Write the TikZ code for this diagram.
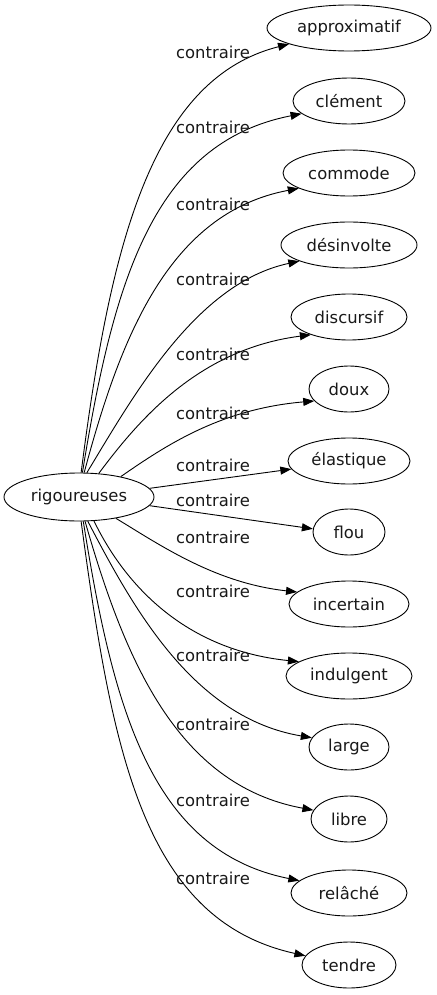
\documentclass[tikz,border=0pt]{standalone}
\usepackage{fontspec}
\setmainfont{DejaVu Sans}
\usetikzlibrary{arrows.meta,shapes.geometric}
\begin{document}
\begin{tikzpicture}[x=1pt,y=-1pt,
  word/.style={draw,ellipse,inner sep=0pt,minimum height=46pt,line width=0.9pt,font=\fontsize{16.4}{19}\selectfont,text=black!90},
  lbl/.style={inner sep=0pt,font=\fontsize{16.4}{19}\selectfont,text=black!90},
  edge/.style={line width=0.9pt,-{Triangle[length=11pt,width=8pt]}}]
\useasboundingbox (0,0) rectangle (436,995);
\node[word,minimum width=150pt,minimum height=48pt] (r) at (79,497) {rigoureuses};
\node[word,minimum width=164pt] (n1) at (349,28) {approximatif};
\node[word,minimum width=112pt] (n2) at (349,101) {clément};
\node[word,minimum width=132pt] (n3) at (349,173) {commode};
\node[word,minimum width=136pt] (n4) at (349,245) {désinvolte};
\node[word,minimum width=116pt] (n5) at (349,317) {discursif};
\node[word,minimum width=80pt] (n6) at (349,389) {doux};
\node[word,minimum width=122pt] (n7) at (349,461) {élastique};
\node[word,minimum width=72pt] (n8) at (349,532) {flou};
\node[word,minimum width=120pt] (n9) at (349,604) {incertain};
\node[word,minimum width=126pt] (n10) at (349,676) {indulgent};
\node[word,minimum width=80pt] (n11) at (349,747) {large};
\node[word,minimum width=76pt] (n12) at (349,819) {libre};
\node[word,minimum width=116pt] (n13) at (349,893) {relâché};
\node[word,minimum width=94pt] (n14) at (349,965) {tendre};
\draw[edge] (r.85.2) .. controls (110,246) and (151,79) .. (n1.195.3);
\draw[edge] (r.82) .. controls (113,284) and (152,143) .. (n2.195);
\draw[edge] (r.78) .. controls (120,339) and (168,213) .. (n3.197);
\draw[edge] (r.72) .. controls (135,393) and (197,283) .. (n4.198);
\draw[edge] (r.50.7) .. controls (140,418) and (200,349) .. (n5.205);
\draw[edge] (r.26) .. controls (165,446) and (220,409) .. (n6.199);
\draw[edge] (r.7) -- (n7.188);
\draw[edge] (r.-7) -- (n8.175);
\draw[edge] (r.-30) .. controls (160,545) and (215,583) .. (n9.167);
\draw[edge] (r.-58) .. controls (125,585) and (185,650) .. (n10.164);
\draw[edge] (r.-70) .. controls (135,612) and (195,718) .. (n11.166);
\draw[edge] (r.-76) .. controls (124,657) and (176,785) .. (n12.166);
\draw[edge] (r.-80.5) .. controls (113,708) and (151,851) .. (n13.166);
\draw[edge] (r.-85) .. controls (112,751) and (143,920) .. (n14.168);
\node[lbl] (l1) at (213,52) {contraire};
\node[lbl] (l2) at (213,127) {contraire};
\node[lbl] (l3) at (213,204) {contraire};
\node[lbl] (l4) at (213,279) {contraire};
\node[lbl] (l5) at (213,354) {contraire};
\node[lbl] (l6) at (213,413) {contraire};
\node[lbl] (l7) at (213,465) {contraire};
\node[lbl] (l8) at (213,500) {contraire};
\node[lbl] (l9) at (213,537) {contraire};
\node[lbl] (l10) at (213,591) {contraire};
\node[lbl] (l11) at (213,655) {contraire};
\node[lbl] (l12) at (213,724) {contraire};
\node[lbl] (l13) at (213,800) {contraire};
\node[lbl] (l14) at (213,878) {contraire};
\end{tikzpicture}
\end{document}
